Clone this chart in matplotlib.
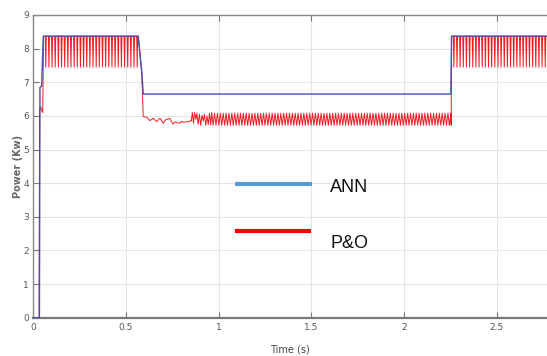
import numpy as np
import matplotlib
matplotlib.use("Agg")
import matplotlib.pyplot as plt
from matplotlib.lines import Line2D

# ---------------- data ----------------
# ANN (blue) breakpoints: time (s), power (kW)
ann_t = [0.0, 0.033, 0.036, 0.045, 0.054, 0.566, 0.585, 0.593, 2.252, 2.256, 2.78]
ann_p = [0.0, 0.0, 6.85, 6.88, 8.37, 8.37, 7.30, 6.65, 6.65, 8.37, 8.37]

# P&O (red) start-up
po_start_t = [0.0, 0.031, 0.034, 0.040, 0.046, 0.051, 0.055]
po_start_p = [0.0, 0.0, 6.20, 6.27, 6.15, 6.10, 8.37]

# P&O high-power ripple (first and last interval): narrow dips
ripple_hi_top = 8.37
ripple_hi_bottom = 7.45
ripple_hi_period = 0.0170
hi_seg1 = (0.055, 0.566)
hi_seg2 = (2.256, 2.78)

# P&O transition down
po_drop_t = [0.566, 0.585, 0.593, 0.612]
po_drop_p = [8.37, 7.30, 5.98, 5.96]

# P&O small irregular wiggles after the step down
po_wig_t = [0.629, 0.647, 0.665, 0.683, 0.701, 0.712, 0.720, 0.737, 0.752,
            0.765, 0.773, 0.791, 0.800, 0.809, 0.827, 0.838, 0.848]
po_wig_p = [5.86, 5.93, 5.83, 5.93, 5.78, 5.88, 5.90, 5.92, 5.76,
            5.82, 5.80, 5.78, 5.84, 5.81, 5.83, 5.82, 5.86]

# P&O first larger oscillations
po_osc_t = [0.852, 0.858, 0.864, 0.870, 0.877, 0.882, 0.889, 0.896, 0.903,
            0.910, 0.917, 0.923, 0.930, 0.937, 0.944, 0.950, 0.957, 0.962]
po_osc_p = [5.85, 6.10, 5.78, 6.10, 5.90, 6.08, 5.75, 6.05, 5.72,
            6.02, 5.85, 6.05, 5.72, 6.00, 5.74, 6.08, 5.73, 6.10]

# P&O steady low-power ripple
ripple_lo_top = 6.08
ripple_lo_bottom = 5.72
ripple_lo_period = 0.0156
lo_seg = (0.962, 2.252)

x_ticks = [0, 0.5, 1, 1.5, 2, 2.5]
x_tick_labels = ["0", "0.5", "1", "1.5", "2", "2.5"]
y_ticks = list(range(0, 10))
legend_labels = ["ANN", "P&O"]


def dips(seg, top, bottom, period):
    """flat top with a narrow V-shaped dip in every period"""
    n = int(round((seg[1] - seg[0]) / period))
    ts, ps = [], []
    for k in range(n):
        t0 = seg[0] + k * period
        ts += [t0, t0 + 0.55 * period, t0 + 0.72 * period, t0 + 0.89 * period]
        ps += [top, top, bottom, top]
    ts.append(seg[1])
    ps.append(top)
    return ts, ps


def zigzag(seg, top, bottom, period):
    n = int(round((seg[1] - seg[0]) / period))
    t = np.linspace(seg[0], seg[1], 2 * n + 1)
    p = np.where(np.arange(2 * n + 1) % 2 == 0, top, bottom)
    return list(t), list(p)


z1t, z1p = dips(hi_seg1, ripple_hi_top, ripple_hi_bottom, ripple_hi_period)
zlt, zlp = zigzag(lo_seg, ripple_lo_top, ripple_lo_bottom, ripple_lo_period)
z2t, z2p = dips(hi_seg2, ripple_hi_top, ripple_hi_bottom, ripple_hi_period)

po_t = (po_start_t + z1t[1:] + po_drop_t[1:] + po_wig_t + po_osc_t + zlt[1:]
        + [2.254] + z2t)
po_p = (po_start_p + z1p[1:] + po_drop_p[1:] + po_wig_p + po_osc_p + zlp[1:]
        + [5.72] + z2p)

# ---------------- figure ----------------
W, H = 547, 356
fig = plt.figure(figsize=(W / 100, H / 100), dpi=100)
ax = fig.add_axes([33.3 / W, 1 - 317.7 / H, 1 - 33.3 / W, (317.7 - 15) / H])

ax.plot(po_t, po_p, color="#ee1c24", lw=0.7, zorder=3)
ax.plot(ann_t, ann_p, color="#4b4bb0", lw=1.0, zorder=4)

ax.set_xlim(0, (W - 33.3) / 185.4)
ax.set_ylim(0, 9)
ax.set_xticks(x_ticks)
ax.set_xticklabels(x_tick_labels)
ax.set_yticks(y_ticks)
ax.grid(True, color="#e4e4e4", lw=0.8)
ax.set_axisbelow(True)

for s in ["left", "top"]:
    ax.spines[s].set_color("#8a8a8a")
    ax.spines[s].set_linewidth(1.0)
ax.spines["bottom"].set_color("#7a7a7a")
ax.spines["bottom"].set_linewidth(1.6)
ax.spines["right"].set_visible(False)

ax.tick_params(axis="both", direction="in", length=4, width=0.8,
               colors="#7a7a7a", labelcolor="#555555", labelsize=6.5,
               top=True)
ax.tick_params(axis="x", pad=4)
ax.tick_params(axis="y", pad=3)

ax.set_xlabel("Time (s)", fontsize=7, color="#444444", labelpad=9)
ax.set_ylabel("Power (Kw)", fontsize=7, color="#666666", labelpad=0,
              fontweight="bold")

# overlaid legend (drawn in figure pixel coordinates)
fx = lambda px: px / W
fy = lambda py: 1 - py / H
fig.add_artist(Line2D([fx(235), fx(312)], [fy(184), fy(184)],
                      color="#5b9bd5", lw=3.0, solid_capstyle="butt"))
fig.add_artist(Line2D([fx(235), fx(311)], [fy(231), fy(231)],
                      color="#ff0000", lw=3.0, solid_capstyle="butt"))
fam = ["Liberation Sans Narrow", "Liberation Sans", "DejaVu Sans"]
fig.text(fx(330), fy(187), legend_labels[0], fontsize=13, family=fam,
         color="#111111", va="center", ha="left")
fig.text(fx(330), fy(243), legend_labels[1], fontsize=13, family=fam,
         color="#111111", va="center", ha="left")

fig.savefig("out.png", dpi=100)
